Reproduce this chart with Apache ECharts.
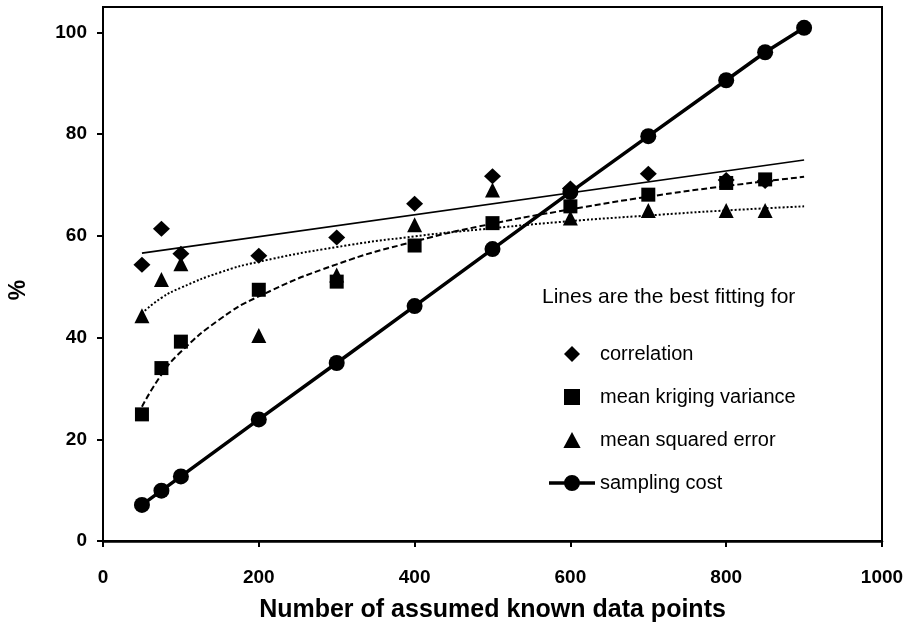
<!DOCTYPE html>
<html>
<head>
<meta charset="utf-8">
<script src="https://cdn.jsdelivr.net/npm/echarts@6/dist/echarts.min.js"></script>
<style>
  html, body { margin: 0; padding: 0; background: #fff; }
  #chart { width: 910px; height: 629px; }
</style>
</head>
<body>
<div id="chart"></div>
<script>
// 测量点 x（样本数）
const pointsX = [50, 75, 100, 200, 300, 400, 500, 600, 700, 800, 850];
const costX = [50, 75, 100, 200, 300, 400, 500, 600, 700, 800, 850, 900];

// 散点数据
const correlation = [54.3, 61.4, 56.5, 56.1, 59.7, 66.3, 71.7, 69.3, 72.2, 71.0, 70.8];
const krigingVar = [24.9, 34.0, 39.2, 49.4, 51.0, 58.1, 62.5, 65.8, 68.1, 70.4, 71.1];
const mse = [44.3, 51.4, 54.5, 40.4, 52.3, 62.2, 69.0, 63.5, 65.0, 65.0, 65.0];
const samplingCost = [7.1, 9.9, 12.7, 23.9, 35.0, 46.2, 57.4, 68.6, 79.6, 90.6, 96.1, 100.9];

// 拟合曲线
const fitX = [50, 75, 100, 150, 200, 300, 400, 500, 600, 700, 800, 900];
const corrFitX = [50, 900];
const corrFit = [56.6, 74.9];
const krigFit = [26.4, 32.7, 37.2, 43.6, 48.1, 54.4, 58.9, 62.4, 65.2, 67.7, 69.8, 71.6];
const mseFit = [44.8, 47.8, 49.8, 52.8, 54.9, 57.8, 59.9, 61.5, 62.9, 64.0, 65.0, 65.8];

const yTicks = [0, 20, 40, 60, 80, 100];

const zip = (xs, ys) => xs.map((x, i) => [x, ys[i]]);

const chart = echarts.init(document.getElementById('chart'));
const font = 'Liberation Sans, Arial, sans-serif';

// 图例图标（path 保持比例，避免被拉伸）
const iconDiamond = 'path://M7,0L14,7L7,14L0,7Z';
const iconSquare = 'path://M0,0H13V13H0Z';
const iconTriangle = 'path://M7,0L14,13H0Z';
const iconCost = 'path://M0,6.2H17V9.8H0Z M29,6.2H46V9.8H29Z M15,8A8,8 0 1,1 31,8A8,8 0 1,1 15,8Z';

const option = {
  animation: false,
  textStyle: { fontFamily: font, color: '#000' },
  title: {
    text: 'Lines are the best fitting for',
    left: 537,
    top: 282,
    textStyle: { fontFamily: font, fontSize: 21, fontWeight: 'normal', color: '#000' }
  },
  legend: {
    orient: 'vertical',
    left: 544,
    top: 339,
    itemWidth: 46,
    itemHeight: 16,
    itemGap: 23,
    symbolKeepAspect: true,
    textStyle: { fontFamily: font, fontSize: 20, color: '#000' },
    data: [
      { name: 'correlation', icon: iconDiamond },
      { name: 'mean kriging variance', icon: iconSquare },
      { name: 'mean squared error', icon: iconTriangle },
      { name: 'sampling cost', icon: iconCost }
    ]
  },
  graphic: [{
    type: 'text',
    x: 19, y: 290,
    rotation: Math.PI / 2,
    style: {
      text: '%', font: 'bold 23px ' + font, fill: '#000',
      align: 'center', verticalAlign: 'middle'
    }
  }],
  grid: {
    left: 103, right: 28, top: 7, bottom: 88,
    outerBoundsMode: 'none',
    containLabel: false,
    show: true, borderColor: '#000', borderWidth: 2
  },
  xAxis: {
    type: 'value',
    min: 0, max: 1000, interval: 200,
    name: 'Number of assumed known data points',
    nameLocation: 'middle',
    nameGap: 57,
    nameTextStyle: { fontFamily: font, fontSize: 25, fontWeight: 'bold', color: '#000' },
    axisLine: { lineStyle: { color: '#000', width: 2.5 } },
    axisTick: { inside: false, length: 6, lineStyle: { color: '#000', width: 2 } },
    axisLabel: {
      margin: 27, fontFamily: font, fontSize: 19, fontWeight: 'bold', color: '#000',
      formatter: v => String(v)
    },
    splitLine: { show: false }
  },
  yAxis: {
    type: 'value',
    min: 0, max: 105,
    axisLine: { show: true, lineStyle: { color: '#000', width: 2 } },
    axisTick: { show: true, length: 6, customValues: yTicks, lineStyle: { color: '#000', width: 2 } },
    axisLabel: {
      margin: 16, customValues: yTicks, fontFamily: font, fontSize: 19, fontWeight: 'bold', color: '#000'
    },
    splitLine: { show: false }
  },
  series: [
    {
      name: 'corrFit', type: 'line', silent: true, showSymbol: false,
      data: zip(corrFitX, corrFit),
      lineStyle: { color: '#000', width: 1.6 }
    },
    {
      name: 'krigFit', type: 'line', silent: true, showSymbol: false, smooth: true,
      data: zip(fitX, krigFit),
      lineStyle: { color: '#000', width: 2, type: [6, 3] }
    },
    {
      name: 'mseFit', type: 'line', silent: true, showSymbol: false, smooth: true,
      data: zip(fitX, mseFit),
      lineStyle: { color: '#000', width: 2, type: [2, 2] }
    },
    {
      name: 'correlation', type: 'scatter', symbol: 'diamond', symbolSize: [17, 16],
      itemStyle: { color: '#000', opacity: 1 }, data: zip(pointsX, correlation)
    },
    {
      name: 'mean kriging variance', type: 'scatter', symbol: 'rect', symbolSize: 14,
      itemStyle: { color: '#000', opacity: 1 }, data: zip(pointsX, krigingVar)
    },
    {
      name: 'mean squared error', type: 'scatter', symbol: 'triangle', symbolSize: 15,
      itemStyle: { color: '#000', opacity: 1 }, data: zip(pointsX, mse)
    },
    {
      name: 'sampling cost', type: 'line', symbol: 'circle', symbolSize: 16,
      itemStyle: { color: '#000', opacity: 1 },
      lineStyle: { color: '#000', width: 3.5 },
      data: zip(costX, samplingCost)
    }
  ]
};

chart.setOption(option);
window.addEventListener('resize', () => chart.resize());
</script>
</body>
</html>
